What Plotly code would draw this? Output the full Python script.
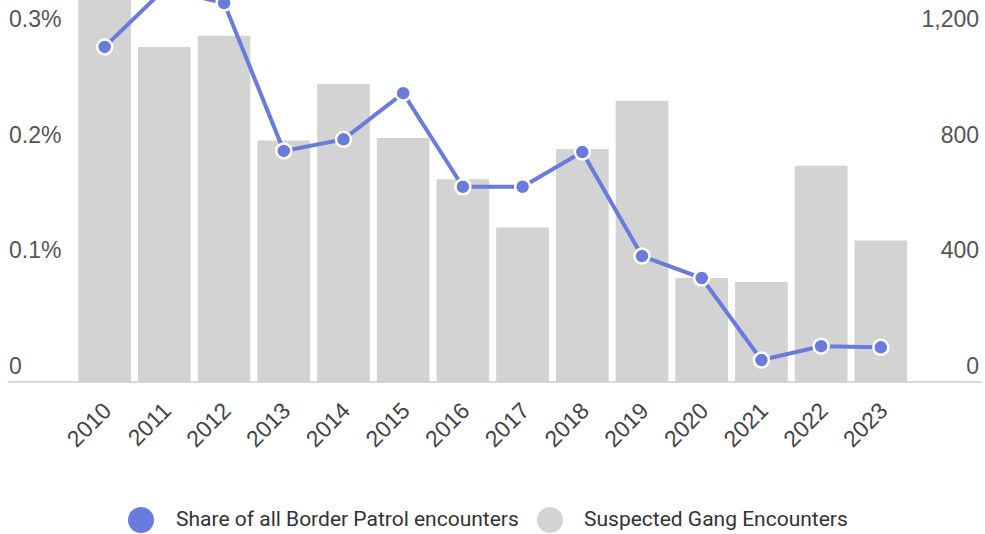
import plotly.graph_objects as go

years = ["2010", "2011", "2012", "2013", "2014", "2015", "2016",
         "2017", "2018", "2019", "2020", "2021", "2022", "2023"]
share_pct = [0.290, 0.340, 0.328, 0.200, 0.210, 0.250, 0.169,
             0.169, 0.199, 0.109, 0.090, 0.019, 0.031, 0.030]
gang_encounters = [1350, 1159, 1198, 836, 1031, 844, 702,
                   535, 806, 973, 360, 346, 748, 490]

left_ticks = [0, 0.1, 0.2, 0.3]
left_ticktext = ["0", "0.1%", "0.2%", "0.3%"]
right_ticks = [0, 400, 800, 1200]
right_ticktext = ["0", "400", "800", "1,200"]

series_names = ["Share of all Border Patrol encounters", "Suspected Gang Encounters"]
LINE_COLOR = "#6a7bdc"
BAR_COLOR = "#d3d3d3"

W, H = 985, 534
PLOT_BOTTOM = 382  # pixel row of the baseline

fig = go.Figure()
fig.add_trace(go.Bar(
    x=years, y=gang_encounters, name=series_names[1],
    marker=dict(color=BAR_COLOR, line=dict(width=0)),
    yaxis="y", showlegend=False,
))
fig.add_trace(go.Scatter(
    x=years, y=share_pct, name=series_names[0], mode="lines+markers",
    line=dict(color=LINE_COLOR, width=4),
    marker=dict(color=LINE_COLOR, size=15, line=dict(color="white", width=2.5)),
    yaxis="y2", showlegend=False,
))

tick_font = dict(family="Liberation Sans, Arial, sans-serif", size=23, color="#555555")


def px_y(py):
    return (PLOT_BOTTOM - py) / PLOT_BOTTOM


shapes = [
    dict(type="line", xref="paper", yref="paper", x0=8 / W, x1=982 / W, y0=0, y1=0,
         line=dict(color="#cccccc", width=1.5), layer="above"),
]
annotations = []
legend_items = [(141, 174, LINE_COLOR, series_names[0]), (550, 582, BAR_COLOR, series_names[1])]
for cx, tx, col, name in legend_items:
    shapes.append(dict(type="circle", xref="paper", yref="paper",
                       xsizemode="pixel", ysizemode="pixel",
                       xanchor=cx / W, yanchor=px_y(520),
                       x0=-13, x1=13, y0=-13, y1=13,
                       fillcolor=col, line=dict(width=0)))
    annotations.append(dict(xref="paper", yref="paper", x=tx / W, y=px_y(519),
                            xanchor="left", yanchor="middle", showarrow=False, text=name,
                            font=dict(family="Roboto, Liberation Sans, sans-serif",
                                      size=21, color="#333333")))

fig.update_layout(
    width=W, height=H,
    margin=dict(l=0, r=0, t=0, b=H - PLOT_BOTTOM, pad=0, autoexpand=False),
    paper_bgcolor="white", plot_bgcolor="white",
    bargap=0.117,
    showlegend=False,
    xaxis=dict(domain=[74.8 / W, 910.7 / W], type="category", range=[-0.5, 13.5],
               automargin=False,
               tickangle=-45, tickfont=dict(family="Liberation Sans, Arial, sans-serif", size=23, color="#444444"),
               showgrid=False, zeroline=False, showline=False,
               ticks="outside", ticklen=5, tickcolor="rgba(0,0,0,0)"),
    yaxis=dict(range=[0, 1322], anchor="free", position=0.997, side="right", automargin=False,
               tickvals=right_ticks, ticktext=right_ticktext,
               ticklabelposition="inside top", tickfont=tick_font,
               showgrid=False, zeroline=False, showline=False, ticks=""),
    yaxis2=dict(range=[0, 0.3306], anchor="free", position=5 / W, side="left", automargin=False,
                overlaying="y",
                tickvals=left_ticks, ticktext=left_ticktext,
                ticklabelposition="inside top", tickfont=tick_font,
                showgrid=False, zeroline=False, showline=False, ticks=""),
    shapes=shapes,
    annotations=annotations,
)

fig.write_html("out.html", config={"displayModeBar": False},
               post_script="document.body.style.margin='0';")
